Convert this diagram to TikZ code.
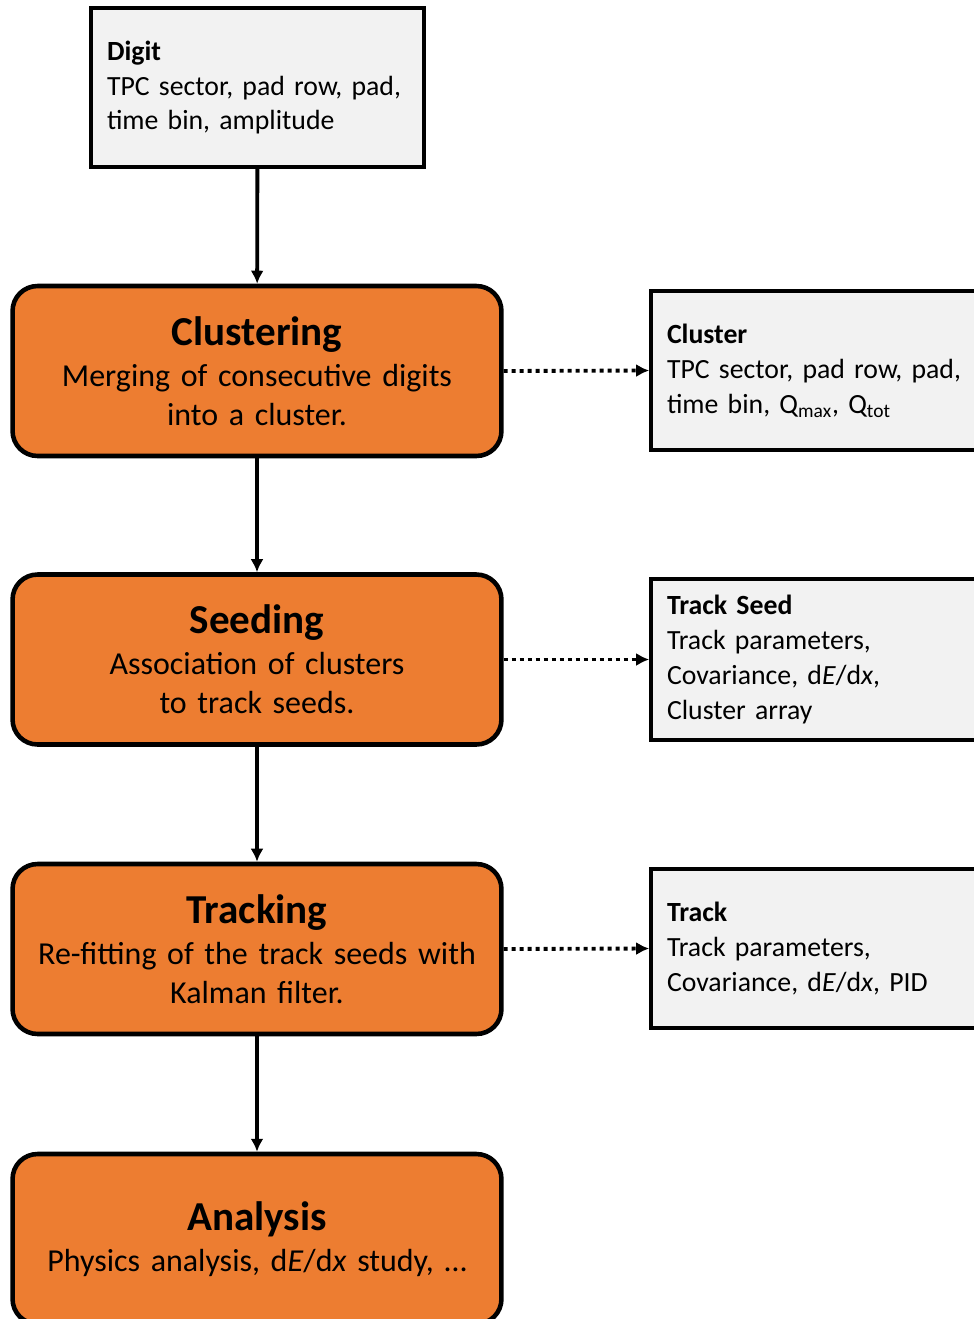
\documentclass[tikz,border=0pt]{standalone}
\usepackage{fontspec}
\setmainfont{Carlito}
\usetikzlibrary{arrows.meta}

\definecolor{steporange}{HTML}{ED7D31}
\definecolor{datagray}{HTML}{F2F2F2}
\newcommand{\stagetitle}[1]{{\fontsize{23.4}{26}\selectfont\bfseries #1}}
\newcommand{\dEdx}{d\textit{E}/d\textit{x}}

\tikzset{
  stage/.style={draw, line width=2.6pt, fill=steporange, rounded corners=0.5cm,
    minimum width=9.78cm, minimum height=3.4cm, text width=9.4cm, align=center,
    inner sep=0pt, font=\fontsize{18.2}{22.2}\selectfont},
  datum/.style={draw, line width=2.1pt, fill=datagray, minimum height=3.18cm,
    align=left, inner sep=0.32cm, font=\fontsize{15.8}{19.9}\selectfont},
  flow/.style={line width=2.2pt, -{Latex[length=0.26cm,width=0.26cm]}},
  product/.style={flow, dash pattern=on 0.08cm off 0.08cm}
}

\begin{document}
\begin{tikzpicture}[x=0.02cm, y=-0.02cm]
  \useasboundingbox (0,0) rectangle (974,1319);
  \clip (0,0) rectangle (974,1319);

  % processing chain
  \node[datum, text width=6.02cm] (digit) at (257.5,87.5)
    {\textbf{Digit}\\TPC sector, pad row, pad,\\time bin, amplitude};
  \node[stage] (clustering) at (257,371)
    {\stagetitle{Clustering}\\[1pt]Merging of consecutive digits\\into a cluster.};
  \node[stage] (seeding) at (257,659.5)
    {\stagetitle{Seeding}\\[1pt]Association of clusters\\to track seeds.};
  \node[stage] (tracking) at (257,949)
    {\stagetitle{Tracking}\\[1pt]Re-fitting of the track seeds with\\Kalman filter.};
  \node[stage] (analysis) at (257,1239)
    {\stagetitle{Analysis}\\[1pt]Physics analysis, \dEdx{} study, \dots};

  % data products
  \node[datum, text width=6.16cm] (cluster) at (821,370.5)
    {\textbf{Cluster}\\TPC sector, pad row, pad,\\time bin, Q\textsubscript{max}, Q\textsubscript{tot}};
  \node[datum, text width=6.16cm] (seed) at (821,659.5)
    {\textbf{Track Seed}\\Track parameters,\\Covariance, \dEdx,\\Cluster array};
  \node[datum, text width=6.16cm] (track) at (821,948.5)
    {\textbf{Track}\\Track parameters,\\Covariance, \dEdx, PID};

  \draw[flow] (digit) -- (clustering);
  \draw[flow] (clustering) -- (seeding);
  \draw[flow] (seeding) -- (tracking);
  \draw[flow] (tracking) -- (analysis);

  \draw[product] (clustering.east) -- (cluster.west);
  \draw[product] (seeding.east) -- (seed.west);
  \draw[product] (tracking.east) -- (track.west);
\end{tikzpicture}
\end{document}
